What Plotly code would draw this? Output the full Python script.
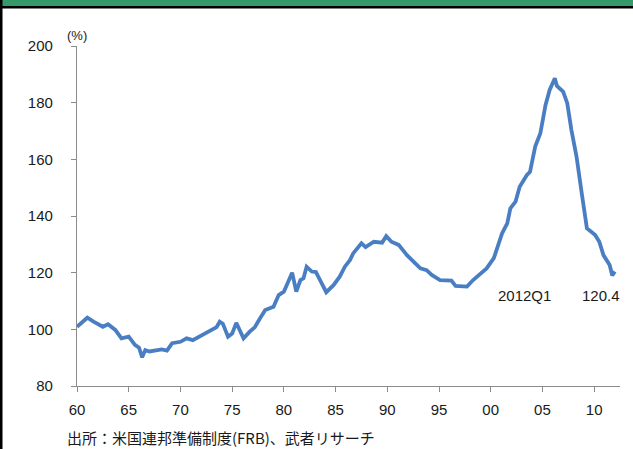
import plotly.graph_objects as go

# Ratio series (%), sampled at fractional years (60 = 1960)
years = [60.0, 60.5, 61.0, 61.6, 62.0, 62.5, 63.0, 63.7, 64.3, 65.0, 65.6, 66.0,
         66.3, 66.6, 67.0, 67.7, 68.2, 68.7, 69.2, 70.0, 70.6, 71.2, 71.7, 72.2,
         73.0, 73.5, 73.8, 74.1, 74.6, 75.0, 75.4, 75.8, 76.1, 76.7, 77.2, 77.7,
         78.2, 79.0, 79.5, 80.0, 80.3, 80.8, 81.2, 81.6, 81.9, 82.2, 82.7, 83.1,
         83.5, 84.1, 84.8, 85.4, 85.9, 86.4, 86.7, 87.5, 87.9, 88.7, 89.5, 89.9,
         90.4, 91.1, 91.9, 92.5, 93.2, 93.8, 94.3, 95.1, 96.2, 96.6, 97.7, 98.3,
         99.0, 99.6, 100.3, 100.7, 101.1, 101.6, 101.9, 102.4, 102.8, 103.5, 103.8,
         104.3, 104.8, 105.3, 105.7, 106.2, 106.4, 107.0, 107.4, 107.8, 108.3,
         108.8, 109.3, 110.1, 110.5, 110.9, 111.5, 111.75, 112.0]
values = [100.9, 102.5, 104.1, 102.7, 102.0, 100.9, 101.8, 99.8, 96.8, 97.4, 94.5, 93.5,
          90.1, 92.7, 92.2, 92.7, 92.9, 92.5, 95.1, 95.6, 96.8, 96.2, 97.2, 98.0,
          99.8, 100.8, 102.7, 102.0, 97.4, 98.5, 102.3, 99.0, 96.8, 99.2, 100.8, 103.9,
          106.8, 108.0, 112.1, 113.3, 115.6, 120.0, 113.3, 117.4, 118.0, 122.1, 120.4, 120.2,
          117.4, 113.1, 115.6, 118.6, 122.1, 124.5, 126.8, 130.4, 129.0, 130.9, 130.6, 132.9,
          130.9, 129.8, 126.2, 123.9, 121.5, 120.9, 119.2, 117.4, 117.2, 115.3, 115.1, 117.4,
          119.8, 121.5, 125.1, 129.2, 133.9, 137.4, 142.7, 145.1, 150.3, 154.5, 155.6,
          164.5, 169.2, 179.2, 184.5, 188.6, 185.9, 183.9, 179.8, 170.4, 160.9,
          148.0, 135.7, 133.3, 130.9, 126.2, 122.7, 119.0, 120.4]

tick_vals = [60, 65, 70, 75, 80, 85, 90, 95, 100, 105, 110]
tick_text = ["60", "65", "70", "75", "80", "85", "90", "95", "00", "05", "10"]

last_period = "2012Q1"
last_value = values[-1]

source_note = "出所：米国連邦準備制度(FRB)、武者リサーチ"

W, H = 633, 449
ML, MR, MT, MB = 77, 13, 46, 63
line_color = "#4a7ec3"
axis_color = "#8c8c8c"
text_color = "#1a1a1a"
font_family = "Liberation Sans, Arial, sans-serif"

fig = go.Figure()
fig.add_trace(go.Scatter(
    x=years, y=values, mode="lines",
    line=dict(color=line_color, width=3.8, shape="linear"),
    hoverinfo="skip", showlegend=False,
))

fig.update_layout(
    width=W, height=H,
    margin=dict(l=ML, r=MR, t=MT, b=MB),
    paper_bgcolor="white", plot_bgcolor="white",
    font=dict(family=font_family, size=15, color=text_color),
    xaxis=dict(
        range=[60, 112.5], tickmode="array", tickvals=tick_vals, ticktext=tick_text,
        showgrid=False, zeroline=False, showline=True, linecolor=axis_color,
        linewidth=1.2, ticks="outside", ticklen=5, tickcolor=axis_color,
        tickfont=dict(size=15, color=text_color), ticklabelstandoff=5,
    ),
    yaxis=dict(
        range=[80, 200], dtick=20, tick0=80,
        showgrid=False, zeroline=False, showline=True, linecolor=axis_color,
        linewidth=1.2, ticks="outside", ticklen=5, tickcolor=axis_color,
        tickfont=dict(size=15, color=text_color), ticklabelstandoff=15,
    ),
    annotations=[
        dict(text="(%)", xref="paper", yref="paper", x=0.0, y=1.0,
             xanchor="center", yanchor="bottom", yshift=1, showarrow=False,
             font=dict(size=13, color=text_color)),
        dict(text=last_period, xref="x", yref="y", x=103.3, y=112.1,
             xanchor="center", yanchor="middle", showarrow=False,
             font=dict(size=15, color=text_color)),
        dict(text=f"{last_value:.1f}", xref="x", yref="y", x=110.7, y=112.1,
             xanchor="center", yanchor="middle", showarrow=False,
             font=dict(size=15, color=text_color)),
        dict(text=source_note, xref="paper", yref="paper", x=-0.022, y=0,
             xanchor="left", yanchor="middle", yshift=-51, showarrow=False,
             font=dict(size=15, color=text_color,
                       family="Noto Sans CJK JP, sans-serif")),
    ],
)

# header band, its rule and the left frame, placed in pixel terms
pw, ph = W - ML - MR, H - MT - MB
def px_x(p):
    return (p - ML) / pw
def px_y(p):
    return (H - MB - p) / ph

fig.add_shape(type="rect", xref="paper", yref="paper",
              x0=px_x(0), x1=px_x(W), y0=px_y(0), y1=px_y(6),
              fillcolor="#35996a", line_width=0, layer="above")
fig.add_shape(type="rect", xref="paper", yref="paper",
              x0=px_x(0), x1=px_x(W), y0=px_y(6), y1=px_y(8.5),
              fillcolor="#000000", line_width=0, layer="above")
fig.add_shape(type="rect", xref="paper", yref="paper",
              x0=px_x(0), x1=px_x(2.5), y0=px_y(0), y1=px_y(H),
              fillcolor="#000000", line_width=0, layer="above")

fig.write_html("out.html")
